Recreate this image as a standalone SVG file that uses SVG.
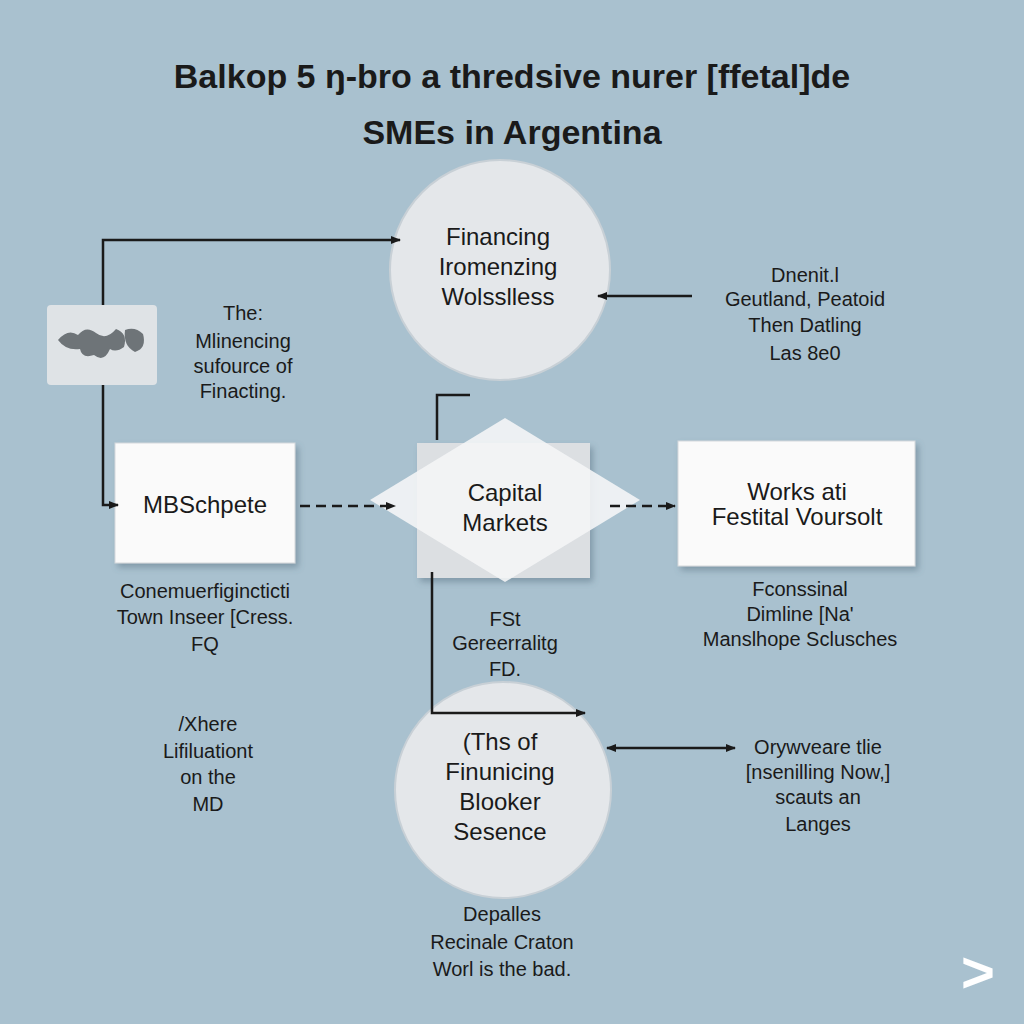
<svg xmlns="http://www.w3.org/2000/svg" width="1024" height="1024" viewBox="0 0 1024 1024">
<defs>
<marker id="ah" markerWidth="10" markerHeight="10" refX="9" refY="5" orient="auto-start-reverse" markerUnits="userSpaceOnUse"><path d="M0,1 L10,5 L0,9 Z" fill="#1a1a1a"/></marker>
<filter id="sh" x="-10%" y="-10%" width="130%" height="130%"><feDropShadow dx="3" dy="4" stdDeviation="3" flood-color="#506878" flood-opacity="0.45"/></filter>
</defs>
<style>
text{font-family:"Liberation Sans",Arial,sans-serif;fill:#1a1a1a;text-anchor:middle}
.t{font-size:34px;font-weight:bold}
.n{font-size:24px}
.l{font-size:20px}
.c{stroke:#1a1a1a;stroke-width:2.5;fill:none}
.d{stroke-dasharray:10 6}
</style>
<rect width="1024" height="1024" fill="#a9c1cf"/>
<text class="t" x="512" y="88">Balkop 5 ŋ-bro a thredsive nurer [ffetal]de</text>
<text class="t" x="512" y="144" font-weight="normal">SMEs in Argentina</text>
<g id="n-top"><circle cx="500" cy="270" r="110" fill="#e4e7ea" stroke="#c8d0d6" stroke-width="2"/>
<text class="n" x="498" y="245">Financing</text><text class="n" x="498" y="275">Iromenzing</text><text class="n" x="498" y="305">Wolsslless</text></g>
<g id="n-img"><rect x="47" y="305" width="110" height="80" rx="4" fill="#dfe3e6"/>
<path d="M58,340 q10,-12 20,-5 q8,-10 18,-2 q10,8 20,-4 q12,4 8,18 q-8,6 -14,2 q-6,14 -16,6 q-12,4 -14,-6 q-14,2 -22,-9 Z" fill="#6e7478"/>
<path d="M125,330 q10,-4 18,4 q4,14 -8,18 q-12,-6 -10,-22 Z" fill="#6e7478"/></g>
<g id="n-mb"><rect x="115" y="443" width="180" height="120" fill="#fafafa" stroke="#d4d8db" filter="url(#sh)"/>
<text class="n" x="205" y="513">MBSchpete</text></g>
<g id="n-cap"><rect x="417" y="443" width="173" height="135" fill="#dcdfe2" filter="url(#sh)"/>
<polygon points="505,418 640,500 505,582 370,500" fill="#f4f5f6" opacity="0.9"/>
<text class="n" x="505" y="501">Capital</text><text class="n" x="505" y="531">Markets</text></g>
<g id="n-works"><rect x="678" y="441" width="237" height="125" fill="#fafafa" stroke="#d4d8db" filter="url(#sh)"/>
<text class="n" x="797" y="500">Works ati</text><text class="n" x="797" y="525">Festital Voursolt</text></g>
<g id="n-bot"><circle cx="503" cy="790" r="108" fill="#e4e7ea" stroke="#c8d0d6" stroke-width="2"/>
<text class="n" x="500" y="750">(Ths of</text><text class="n" x="500" y="780">Finunicing</text><text class="n" x="500" y="810">Blooker</text><text class="n" x="500" y="840">Sesence</text></g>
<g id="connectors">
<path class="c" d="M103,305 V240 H400" marker-end="url(#ah)"/>
<path class="c" d="M103,385 V505 H118" marker-end="url(#ah)"/>
<path class="c" d="M692,296 H598" marker-end="url(#ah)"/>
<path class="c d" d="M300,506 H395" marker-end="url(#ah)"/>
<path class="c d" d="M610,506 H675" marker-end="url(#ah)"/>
<path class="c" d="M437,440 V395 H470"/>
<path class="c" d="M432,572 V713 H585" marker-end="url(#ah)"/>
<path class="c" d="M607,748 H735" marker-start="url(#ah)" marker-end="url(#ah)"/>
</g>
<g id="labels">
<text class="l" x="243" y="320">The:</text><text class="l" x="243" y="348">Mlinencing</text><text class="l" x="243" y="373">sufource of</text><text class="l" x="243" y="398">Finacting.</text>
<text class="l" x="805" y="282">Dnenit.l</text><text class="l" x="805" y="306">Geutland, Peatoid</text><text class="l" x="805" y="332">Then Datling</text><text class="l" x="805" y="360">Las 8e0</text>
<text class="l" x="205" y="598">Conemuerfigincticti</text><text class="l" x="205" y="624">Town Inseer [Cress.</text><text class="l" x="205" y="651">FQ</text>
<text class="l" x="505" y="626">FSt</text><text class="l" x="505" y="650">Gereerralitg</text><text class="l" x="505" y="676">FD.</text>
<text class="l" x="800" y="596">Fconssinal</text><text class="l" x="800" y="621">Dimline [Na'</text><text class="l" x="800" y="646">Manslhope Sclusches</text>
<text class="l" x="208" y="731">/Xhere</text><text class="l" x="208" y="758">Lifiluationt</text><text class="l" x="208" y="784">on the</text><text class="l" x="208" y="811">MD</text>
<text class="l" x="818" y="754">Orywveare tlie</text><text class="l" x="818" y="779">[nsenilling Now,]</text><text class="l" x="818" y="804">scauts an</text><text class="l" x="818" y="831">Langes</text>
<text class="l" x="502" y="921">Depalles</text><text class="l" x="502" y="949">Recinale Craton</text><text class="l" x="502" y="976">Worl is the bad.</text>
</g>
<text x="978" y="992" style="font-size:58px;font-weight:bold;fill:#ffffff">&gt;</text>
</svg>
